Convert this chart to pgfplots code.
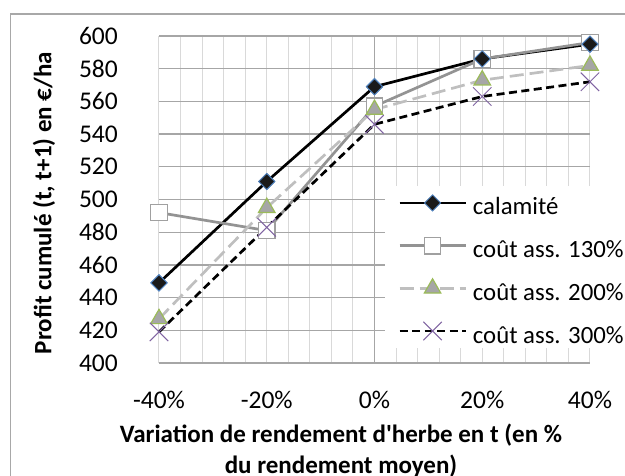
\documentclass[border=0pt]{standalone}
\usepackage{fontspec}
\setmainfont{Carlito}
\usepackage{pgfplots}
\usepackage{pgfplotstable}
\pgfplotsset{compat=1.18}
\definecolor{diaedge}{HTML}{4F81BD}
\definecolor{diafill}{HTML}{1A1A1A}
\definecolor{sqline}{HTML}{939393}
\definecolor{sqedge}{HTML}{A0A0A0}
\definecolor{trline}{HTML}{BFBFBF}
\definecolor{trfill}{HTML}{A6A6A6}
\definecolor{tredge}{HTML}{9BBB59}
\definecolor{xedge}{HTML}{8064A2}
\definecolor{gridmid}{HTML}{A6A6A6}
\definecolor{gridlight}{HTML}{D9D9D9}
\definecolor{frame}{HTML}{A8A8A8}

\pgfplotstableread{
x cal c130 c200 c300
-40 449 492 427 419
-20 511 481 495 483
0 569 557 555 546
20 586 586 573 563
40 595 596 582 572
}\datatable

\begin{document}
\begin{tikzpicture}
\begin{axis}[
  at={(159pt,-363pt)}, anchor=south west,
  scale only axis, width=431pt, height=327pt,
  xmin=-40, xmax=40, ymin=400, ymax=600,
  xtick={-40,-20,0,20,40},
  xticklabels={-40\%,-20\%,0\%,20\%,40\%},
  ytick={400,420,...,600},
  minor xtick={-40,-36,-32,-28,-24,-20,-16,-12,-8,-4,4,8,12,16,20,24,28,32,36,40},
  xminorgrids, ymajorgrids,
  minor grid style={color=gridlight, line width=1pt},
  major grid style={color=gridmid, line width=1.3pt},
  extra x ticks={0}, extra x tick labels={},
  extra x tick style={xmajorgrids=true, major grid style={color=gridmid, line width=1.3pt}},
  major tick length=0pt, minor tick length=0pt,
  axis line style={draw=none},
  clip=false,
  /pgf/number format/assume math mode=true,
  tick label style={font=\fontsize{25.5}{30}\selectfont},
  yticklabel style={anchor=east, inner sep=0pt, xshift=-41pt},
  xticklabel style={anchor=north, inner sep=0pt, yshift=-28pt},
  xlabel={Variation de rendement d\textquotesingle herbe en t (en \%\\du rendement moyen)},
  xlabel style={font=\fontsize{25}{30.5}\selectfont\bfseries, align=center,
    at={(axis description cs:0.4223,-0.2675)}, anchor=center, inner sep=0pt},
  ylabel={Profit cumulé (t, t+1) en €/ha},
  ylabel style={font=\fontsize{25}{28}\selectfont\bfseries,
    at={(axis description cs:-0.267,0.489)}, anchor=center, inner sep=0pt, rotate=0},
  legend cell align=left,
  legend image code/.code={\draw[mark repeat=2,mark phase=2,#1] plot coordinates {(0pt,0pt) (33pt,0pt) (66pt,0pt)};},
  legend style={at={(axis description cs:0.5244,0.5422)}, anchor=north west,
    draw=none, fill=white, inner xsep=13pt, inner ysep=3pt,
    font=\fontsize{24.8}{28}\selectfont,
    nodes={inner sep=0pt, text height=26pt, text depth=2pt},
    row sep=14.7pt,
    /tikz/every odd column/.append style={column sep=6pt}},
]
\addplot[black, line width=2.7pt, mark=square*, mark size=5.7pt,
  mark options={rotate=45, solid, fill=diafill, draw=diaedge, line width=0.9pt}]
  table[x=x, y=cal] {\datatable};
\addlegendentry{calamité}
\addplot[sqline, line width=2.7pt, mark=square*, mark size=8.3pt,
  mark options={solid, fill=white, draw=sqedge, line width=1.2pt}]
  table[x=x, y=c130] {\datatable};
\addlegendentry{coût ass. 130\%}
\addplot[trline, line width=2.7pt, dash pattern=on 14pt off 6pt, mark=triangle*, mark size=9.5pt,
  mark options={solid, fill=trfill, draw=tredge, line width=1.2pt}]
  table[x=x, y=c200] {\datatable};
\addlegendentry{coût ass. 200\%}
\addplot[black, line width=2.7pt, dash pattern=on 8pt off 4.5pt, mark=x, mark size=13pt,
  mark options={solid, draw=xedge, line width=1pt}]
  table[x=x, y=c300] {\datatable};
\addlegendentry{coût ass. 300\%}
\addplot[forget plot, only marks, mark=square*, mark size=5.7pt,
  mark options={rotate=45, solid, fill=diafill, draw=diaedge, line width=0.9pt}]
  table[x=x, y=cal] {\datatable};
\end{axis}
\draw[frame, line width=1.3pt] (10.5pt,-480pt) -- (10.5pt,-14pt) -- (630pt,-14pt);
\pgfresetboundingbox
\useasboundingbox (0pt,0pt) rectangle (625pt,-475pt);
\end{tikzpicture}
\end{document}
